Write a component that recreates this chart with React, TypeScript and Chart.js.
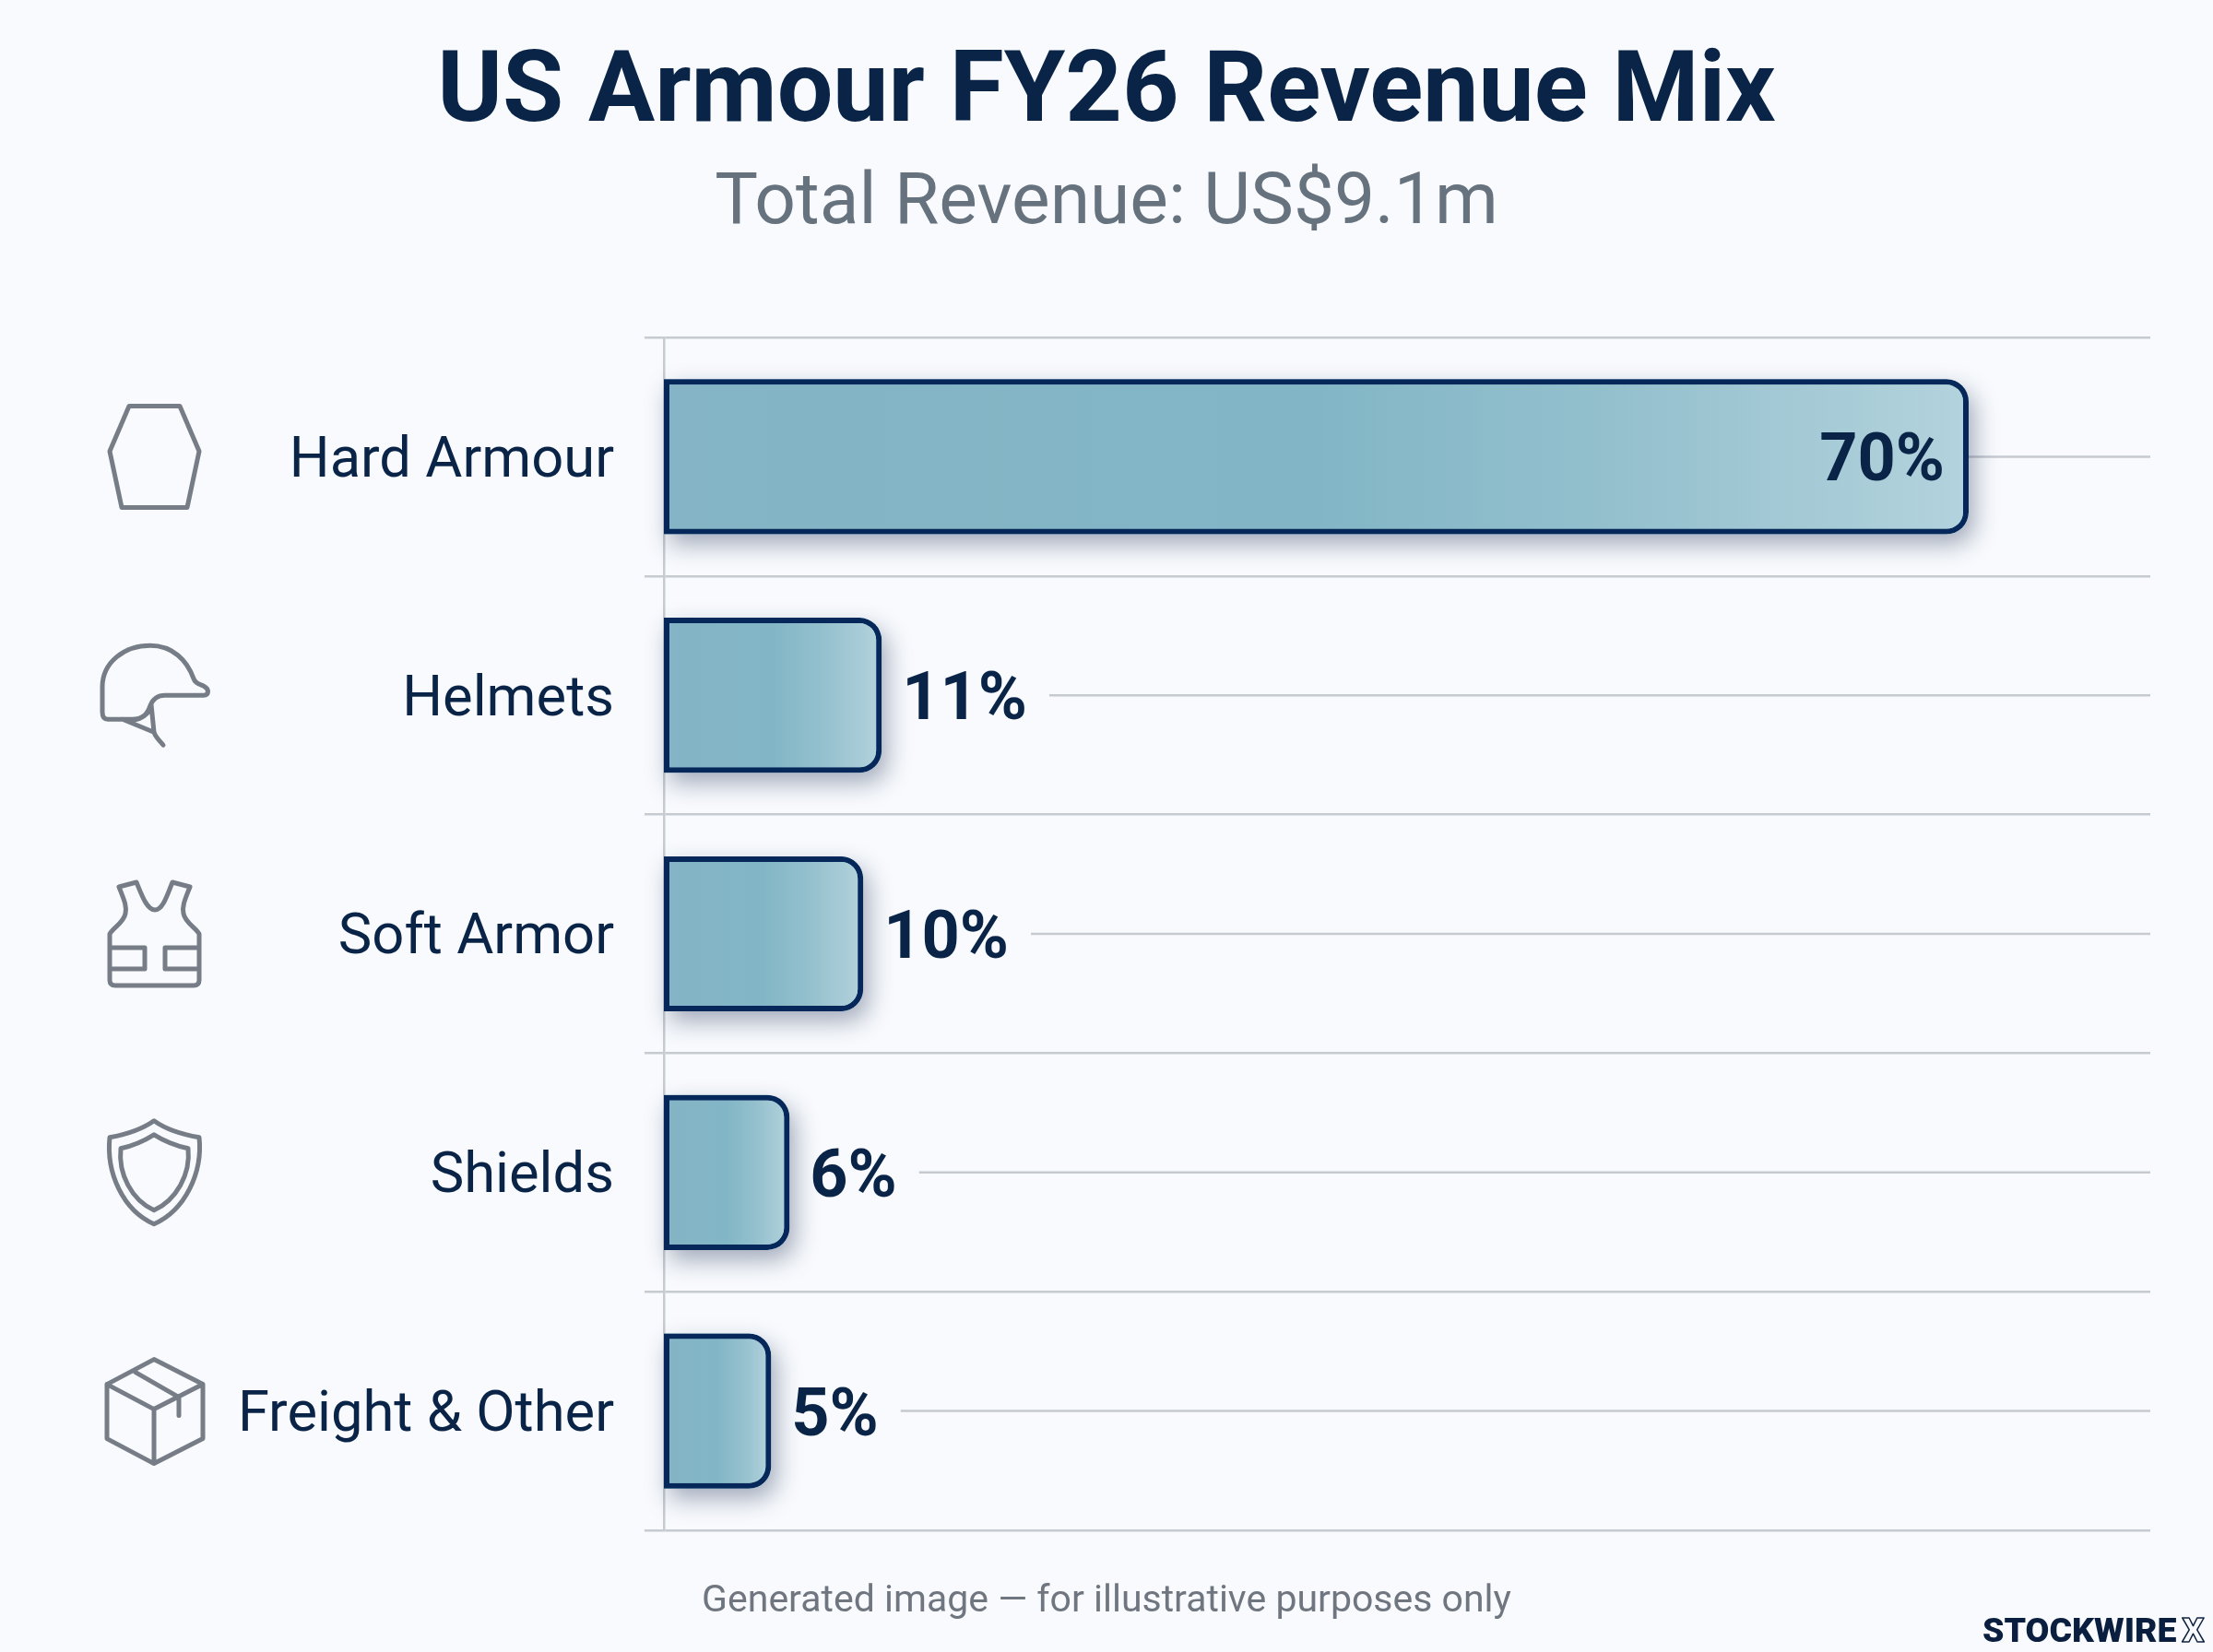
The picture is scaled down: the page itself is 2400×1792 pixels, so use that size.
import React, { useEffect, useRef } from "react";
import { Chart, registerables } from "chart.js";

Chart.register(...registerables);

const categories = ["Hard Armour", "Helmets", "Soft Armor", "Shields", "Freight & Other"];
const shares = [70, 11, 10, 6, 5];
const valueLabels = ["70%", "11%", "10%", "6%", "5%"];
const titleText = "US Armour FY26 Revenue Mix";
const subtitleText = "Total Revenue: US$9.1m";
const footerText = "Generated image \u2014 for illustrative purposes only";
const brandText = "STOCKWIRE";
const brandMark = "X";

const NAVY = "#06275a";
const INK = "#0a2448";
const GRID = "#c6cad1";
const ICON = "#767d86";
const BG = "#f8fafd";
const FONT = "Roboto, sans-serif";
const AXIS_MIN = -0.82;
const AXIS_MAX = 79.86;

const iconPaths = [
  "M-27 -55 L28 -55 L49 -6 L36 55 L-35 55 L-48 -6 Z",
  "M-34 26 L-50 26 Q-56 26 -56 18 L-56 -9 C-56 -36 -32 -54 -4 -54 C20 -54 36 -38 43 -18 C45 -12 50 -12 54 -10 C60 -7 60 0 54 0 L12 0 C2 0 -2 6 -4 11 C-7 20 -12 26 -24 26 Z M-34 26 L0 40 L-3 10 M0 40 C2 46 6 49 10 54 M-22 27 C-14 26 -8 22 -3 14",
  "M-38 -51 L-19 -56 C-14 -44 -8 -26 1 -26 C10 -26 15 -44 20 -56 L39 -51 C34 -38 30 -30 32 -22 C34 -12 44 -8 49 0 L49 50 Q49 56 43 56 L-42 56 Q-48 56 -48 50 L-48 0 C-43 -8 -33 -12 -31 -22 C-29 -30 -33 -38 -38 -51 Z M-48 15 L-10 15 L-10 38 L-48 38 M49 15 L12 15 L12 38 L49 38",
  "M0 -56 C14 -46 31 -41 49 -38 C53 0 34 41 0 56 C-34 41 -52 0 -48 -38 C-31 -41 -14 -46 0 -56 Z M0 -41 C11 -34 24 -29 37 -26 C40 2 24 30 0 41 C-24 30 -39 2 -36 -26 C-23 -29 -11 -34 0 -41 Z",
  "M0 -56 L53 -29 L53 30 L0 57 L-51 30 L-51 -29 Z M-51 -29 L0 -2 L53 -29 M0 -2 L0 57 M-20 -42 L27 -15 L27 5",
];

const chartDecor = {
  id: "chartDecor",
  beforeDatasetsDraw(chart: any) {
    const { ctx, chartArea, scales } = chart;
    const meta = chart.getDatasetMeta(0);
    ctx.save();
    ctx.font = `700 72px ${FONT}`;
    ctx.strokeStyle = GRID;
    ctx.lineWidth = 2.5;
    meta.data.forEach((bar: any, i: number) => {
      const y = scales.y.getPixelForValue(i);
      const inside = i === 0;
      const start = inside ? bar.x : bar.x + 22 + ctx.measureText(valueLabels[i]).width + 24;
      ctx.beginPath();
      ctx.moveTo(start, y);
      ctx.lineTo(chartArea.right, y);
      ctx.stroke();
    });
    // soft drop shadow under each bar, taken from the bar elements' own geometry
    ctx.shadowColor = "rgba(20,40,80,0.38)";
    ctx.shadowBlur = 26;
    ctx.shadowOffsetX = 6;
    ctx.shadowOffsetY = 11;
    ctx.fillStyle = "#85b5c5";
    meta.data.forEach((bar: any) => {
      ctx.beginPath();
      ctx.roundRect(bar.base, bar.y - bar.height / 2, bar.x - bar.base, bar.height, [0, 24, 24, 0]);
      ctx.fill();
    });
    ctx.restore();
  },
  afterDatasetsDraw(chart: any) {
    const { ctx, scales } = chart;
    const meta = chart.getDatasetMeta(0);
    ctx.save();
    ctx.font = `700 72px ${FONT}`;
    ctx.fillStyle = INK;
    ctx.textBaseline = "middle";
    meta.data.forEach((bar: any, i: number) => {
      const y = scales.y.getPixelForValue(i) + 8;
      if (i === 0) {
        ctx.textAlign = "right";
        ctx.fillText(valueLabels[i], bar.x - 26, y);
      } else {
        ctx.textAlign = "left";
        ctx.fillText(valueLabels[i], bar.x + 22, y);
      }
    });

    ctx.strokeStyle = ICON;
    ctx.lineWidth = 5;
    ctx.lineJoin = "round";
    ctx.lineCap = "round";
    iconPaths.forEach((d, i) => {
      ctx.save();
      ctx.translate(167, scales.y.getPixelForValue(i));
      ctx.stroke(new Path2D(d));
      ctx.restore();
    });

    ctx.textAlign = "center";
    ctx.font = `400 41px ${FONT}`;
    ctx.fillStyle = "#6f767f";
    ctx.fillText(footerText, 1200, 1738);

    ctx.textAlign = "left";
    ctx.font = `900 37.5px ${FONT}`;
    ctx.fillStyle = "#0a1f3f";
    ctx.fillText(brandText, 2150, 1772);
    const w = ctx.measureText(brandText).width;
    ctx.lineWidth = 1.5;
    ctx.strokeStyle = "#0a1f3f";
    ctx.strokeText(brandMark, 2150 + w + 6, 1772);
    ctx.restore();
  },
};

export default function App() {
  const ref = useRef<HTMLCanvasElement>(null);
  useEffect(() => {
    document.body.style.margin = "0";
    document.body.style.background = BG;
    const chart = new Chart(ref.current!, {
      type: "bar",
      data: {
        labels: categories,
        datasets: [
          {
            data: shares,
            base: AXIS_MIN,
            barPercentage: 0.65,
            categoryPercentage: 1,
            borderColor: NAVY,
            borderWidth: 6,
            borderSkipped: false,
            borderRadius: { topRight: 24, bottomRight: 24, topLeft: 0, bottomLeft: 0 },
            backgroundColor: (c: any) => {
              const { chart: ch, dataIndex } = c;
              const x = ch.scales?.x;
              if (!x || dataIndex === undefined) return "#85b5c5";
              const x0 = x.getPixelForValue(AXIS_MIN);
              const x1 = x.getPixelForValue(shares[dataIndex]);
              if (!isFinite(x0) || !isFinite(x1)) return "#85b5c5";
              const g = ch.ctx.createLinearGradient(x0, 0, x1, 0);
              g.addColorStop(0, "#84b4c5");
              g.addColorStop(0.5, "#82b6c6");
              g.addColorStop(0.75, "#96c1ce");
              g.addColorStop(1, "#b3d3dd");
              return g;
            },
          } as any,
        ],
      },
      options: {
        indexAxis: "y",
        animation: false,
        responsive: false,
        devicePixelRatio: 1,
        layout: { padding: { left: 0, right: 0, top: 0, bottom: 132 } },
        plugins: {
          legend: { display: false },
          tooltip: { enabled: false },
          title: {
            display: true,
            text: titleText,
            color: INK,
            font: { family: FONT, size: 107.5, weight: "700", lineHeight: 1.2 },
            padding: { top: 40, bottom: 0 },
          },
          subtitle: {
            display: true,
            text: subtitleText,
            color: "#67727f",
            font: { family: FONT, size: 78.5, weight: "400", lineHeight: 1.2 },
            padding: { top: 6.3, bottom: 96.5 },
          },
        },
        scales: {
          x: { display: false, min: AXIS_MIN, max: AXIS_MAX },
          y: {
            afterFit: (s: any) => { s.width = 720; },
            grid: { offset: true, color: GRID, lineWidth: 2.5, tickLength: 21, tickColor: GRID },
            border: { display: true, color: GRID, width: 2.5 },
            ticks: {
              padding: 33,
              labelOffset: 6,
              color: INK,
              font: { family: FONT, size: 61.5, weight: "400" },
            },
          },
          // empty gutter on the right, so the titles stay centred on the full canvas
          gutter: {
            type: "linear",
            axis: "y",
            position: "right",
            afterFit: (s: any) => { s.width = 68; },
            grid: { display: false },
            border: { display: false },
            ticks: { display: false },
          },
        },
      },
      plugins: [chartDecor],
    } as any);
    return () => chart.destroy();
  }, []);
  return <canvas ref={ref} width={2400} height={1792} style={{ display: "block", background: BG }} />;
}
